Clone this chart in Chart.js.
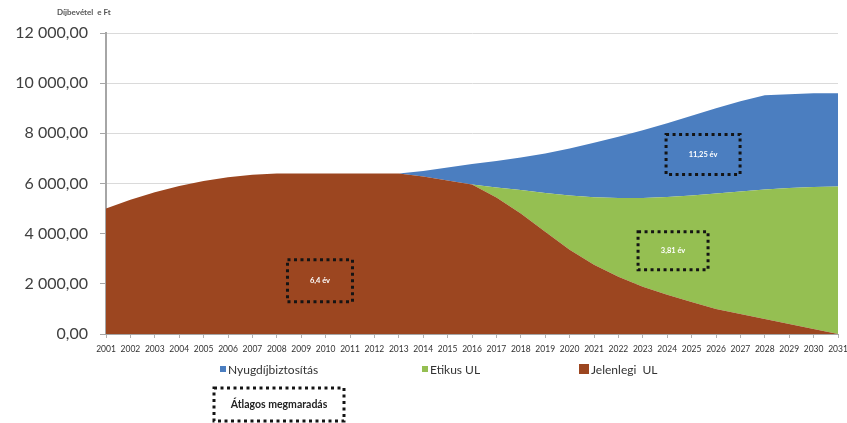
<!DOCTYPE html>
<html>
<head>
<meta charset="utf-8">
<script src="https://cdn.jsdelivr.net/npm/chart.js@4.4.0/dist/chart.umd.min.js"></script>
<style>
    html, body { margin: 0; padding: 0; background: #fff; }
    #wrap { position: relative; width: 847px; height: 423px; }
</style>
</head>
<body>
<div id="wrap"><canvas id="premiumChart" width="847" height="423"></canvas></div>
<script>
// Years on the category axis
const years = ['2001', '2002', '2003', '2004', '2005', '2006', '2007', '2008', '2009', '2010',
    '2011', '2012', '2013', '2014', '2015', '2016', '2017', '2018', '2019', '2020',
    '2021', '2022', '2023', '2024', '2025', '2026', '2027', '2028', '2029', '2030', '2031'];

// Premium income (thousand Ft), stacked from the bottom up
const jelenlegiUL = [5000, 5350, 5650, 5900, 6100, 6250, 6350, 6400, 6400, 6400,
    6400, 6400, 6400, 6280, 6120, 5960, 5440, 4800, 4080, 3360,
    2760, 2280, 1880, 1560, 1280, 1000, 800, 600, 400, 200, 0];
const etikusUL = [0, 0, 0, 0, 0, 0, 0, 0, 0, 0,
    0, 0, 0, 0, 0, 0, 400, 940, 1540, 2160,
    2690, 3140, 3540, 3900, 4240, 4600, 4880, 5160, 5420, 5660, 5880];
const nyugdijbiztositas = [0, 0, 0, 0, 0, 0, 0, 0, 0, 0,
    0, 0, 0, 220, 520, 820, 1060, 1300, 1580, 1880,
    2170, 2440, 2700, 2940, 3180, 3400, 3600, 3760, 3740, 3740, 3720];

// Average retention periods written inside the areas
const retentionLabels = ['6,4 év', '11,25 év', '3,81 év'];

const yTicks = [0, 2000, 4000, 6000, 8000, 10000, 12000];

const COLORS = {
    jelenlegi: '#9c4620',
    etikus: '#95bf52',
    nyugdij: '#4b7ec0'
};

// where each retention box sits: [category index, value], box size in px
const notes = [
    { text: retentionLabels[0], at: [8.77, 2120], w: 65, h: 42 },
    { text: retentionLabels[1], at: [24.47, 7160], w: 74, h: 40 },
    { text: retentionLabels[2], at: [23.24, 3320], w: 70, h: 38 }
];

function formatHu(value) {
    const whole = Math.round(value).toString().replace(/\B(?=(\d{3})+(?!\d))/g, ' ');
    return whole + ',00';
}

function dottedBox(ctx, x, y, w, h) {
    ctx.save();
    ctx.strokeStyle = '#141414';
    ctx.lineWidth = 3;
    ctx.setLineDash([3, 3.5]);
    ctx.strokeRect(x, y, w, h);
    ctx.restore();
}

const overlayPlugin = {
    id: 'overlay',
    afterDraw(chart) {
        const { ctx, scales: { x, y } } = chart;
        ctx.save();

        // axis caption above the y axis
        ctx.font = 'bold 8px Lato, sans-serif';
        ctx.fillStyle = '#555';
        ctx.textAlign = 'left';
        ctx.textBaseline = 'middle';
        ctx.fillText('Díjbevétel  e Ft', 57, 12);

        // retention boxes
        notes.forEach(n => {
            const cx = x.getPixelForValue(n.at[0]);
            const cy = y.getPixelForValue(n.at[1]);
            dottedBox(ctx, cx - n.w / 2, cy - n.h / 2, n.w, n.h);
            ctx.font = 'bold 7.5px Lato, sans-serif';
            ctx.fillStyle = '#fff';
            ctx.textAlign = 'center';
            ctx.textBaseline = 'middle';
            ctx.fillText(n.text, cx, cy);
        });

        // legend row
        const legend = [
            { label: 'Nyugdíjbiztosítás', color: COLORS.nyugdij, x: 220, size: 6 },
            { label: 'Etikus UL', color: COLORS.etikus, x: 422, size: 6 },
            { label: 'Jelenlegi  UL', color: COLORS.jelenlegi, x: 579, size: 10 }
        ];
        ctx.font = '12px Lato, sans-serif';
        ctx.textAlign = 'left';
        ctx.textBaseline = 'middle';
        legend.forEach(item => {
            ctx.fillStyle = item.color;
            ctx.fillRect(item.x, 369 - item.size / 2, item.size, item.size);
            ctx.fillStyle = '#333';
            ctx.fillText(item.label, item.x + item.size + 2, 370);
        });

        // caption box under the legend
        dottedBox(ctx, 214, 388, 130, 33);
        ctx.font = 'bold 10.5px Lato, sans-serif';
        ctx.fillStyle = '#222';
        ctx.textAlign = 'center';
        ctx.fillText('Átlagos megmaradás', 279, 405);

        ctx.restore();
    }
};

const ctx = document.getElementById('premiumChart').getContext('2d');

new Chart(ctx, {
    type: 'line',
    data: {
        labels: years,
        datasets: [{
            label: 'Jelenlegi  UL',
            data: jelenlegiUL,
            backgroundColor: COLORS.jelenlegi,
            fill: 'origin'
        }, {
            label: 'Etikus UL',
            data: etikusUL,
            backgroundColor: COLORS.etikus,
            fill: '-1'
        }, {
            label: 'Nyugdíjbiztosítás',
            data: nyugdijbiztositas,
            backgroundColor: COLORS.nyugdij,
            fill: '-1'
        }]
    },
    options: {
        responsive: false,
        animation: false,
        devicePixelRatio: 1,
        layout: {
            padding: { top: 33, right: 9, left: 0, bottom: 0 }
        },
        elements: {
            point: { radius: 0 },
            line: { borderWidth: 0, tension: 0 }
        },
        scales: {
            x: {
                offset: false,
                grid: {
                    drawOnChartArea: false,
                    tickLength: 4,
                    color: '#b0b0b0'
                },
                border: { color: '#a6a6a6', width: 1 },
                ticks: {
                    autoSkip: false,
                    maxRotation: 0,
                    minRotation: 0,
                    padding: 6,
                    color: '#333',
                    font: { family: 'Lato, sans-serif', size: 8.5 }
                },
                afterFit(scale) {
                    scale.height = 89;
                    // let the last year label run past the plot edge
                    scale.paddingLeft = 0;
                    scale.paddingRight = 0;
                }
            },
            y: {
                stacked: true,
                min: 0,
                max: 12000,
                afterBuildTicks(scale) {
                    scale.ticks = yTicks.map(v => ({ value: v }));
                },
                grid: {
                    color: '#dadada',
                    tickColor: '#a6a6a6',
                    tickLength: 6
                },
                border: { color: '#a6a6a6', width: 2 },
                ticks: {
                    padding: 12,
                    color: '#404040',
                    font: { family: 'Lato, sans-serif', size: 16 },
                    callback: value => formatHu(value)
                },
                afterFit(scale) { scale.width = 106; }
            }
        },
        plugins: {
            legend: { display: false },
            tooltip: { enabled: false }
        }
    },
    plugins: [overlayPlugin]
});
</script>
</body>
</html>
